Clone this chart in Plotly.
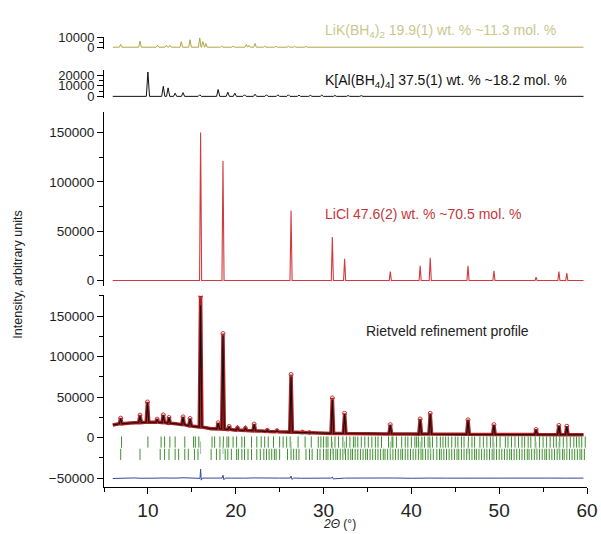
import plotly.graph_objects as go

# ---------------- data ----------------
# LiK(BH4)2 calculated pattern: peak positions (2theta) and heights
lik_pos = [6.9, 9.1, 11.1, 12.1, 12.5, 13.8, 14.8, 15.9, 16.25, 16.6, 18.4, 19.7, 21.2, 21.5,
           22.2, 23.3, 24.6, 26.0, 26.7, 28.0, 29.4, 30.8, 32.5, 34.0, 36.0, 38.0, 41.0, 44.5]
lik_int = [3000, 6500, 2000, 2000, 2000, 6000, 8000, 10000, 6000, 4000, 1000, 1000, 3000, 2000,
           4000, 1000, 1000, 1000, 1000, 800, 800, 600, 600, 500, 500, 400, 400, 300]

# K[Al(BH4)4] calculated pattern
kal_pos = [10.0, 11.75, 12.3, 13.1, 14.0, 15.9, 18.0, 19.1, 19.9, 21.0, 22.2, 23.5, 24.8,
           26.0, 27.2, 28.5, 29.8, 31.3, 32.8, 34.3, 36.0, 37.8, 39.5]
kal_int = [23000, 9500, 8000, 3000, 3500, 1500, 6500, 4000, 3000, 1500, 2000, 1500, 1500,
           1500, 1200, 1000, 1200, 800, 800, 700, 600, 500, 500]

# LiCl calculated pattern
licl_pos = [16.0, 18.55, 26.3, 31.0, 32.4, 37.6, 41.0, 42.15, 46.45, 49.4, 54.2, 56.8, 57.7]
licl_int = [150000, 121000, 71000, 44000, 22000, 9000, 15000, 23000, 15000, 10000, 3500, 9000, 7500]

# Rietveld profile: peaks (observed top, calculated top, local base)
rv_pos = [6.9, 9.1, 9.95, 11.05, 11.75, 12.4, 14.0, 14.8, 16.0, 18.0, 18.55, 19.25, 20.2, 21.1,
          22.1, 23.6, 24.7, 26.3, 27.6, 28.4, 31.0, 32.4, 37.6, 41.0, 42.15, 46.45, 49.4, 54.2,
          56.8, 57.7]
rv_obs = [24000, 27700, 44000, 22800, 28000, 24800, 25600, 23600, 175000, 18300, 128500, 13800,
          11800, 11400, 16700, 9000, 8500, 78000, 6800, 6300, 49000, 30000, 16000, 23000, 30000,
          22000, 16000, 10000, 15000, 14000]
rv_calc = [23500, 27000, 43000, 22500, 27500, 24500, 25000, 23000, 163000, 18000, 126000, 13500,
           11500, 11200, 16300, 8800, 8300, 75000, 6600, 6100, 46500, 29000, 15500, 22000, 29000,
           21000, 15500, 9700, 14500, 13500]
rv_base = [17000, 18500, 19000, 19000, 18500, 17800, 16000, 14500, 13000, 10800, 10500, 10000,
           9300, 8800, 8400, 7600, 7300, 6800, 6200, 6000, 5200, 5000, 4500, 4300, 4300, 4000,
           3900, 3700, 3600, 3600]
# background anchors of the profile
bg_x = [6.0, 6.4, 8.0, 10.6, 13.2, 15.3, 17.2, 19.8, 21.6, 23.0, 25.5, 29.5, 35.0, 40.0, 45.0, 52.0, 59.6]
bg_y = [15500, 16500, 18000, 19000, 17000, 13500, 11000, 9500, 8600, 8000, 7000, 5600, 4800, 4400,
        4100, 3800, 3500]

# difference curve
diff_x = [6.0, 6.8, 7.6, 8.4, 9.2, 10.0, 10.8, 11.6, 12.4, 13.2, 14.0, 14.8, 15.6, 15.93, 16.0,
          16.07, 16.2, 17.0, 17.8, 18.45, 18.55, 18.65, 18.8, 19.4, 20.2, 21.0, 22.0, 23.5, 25.0,
          26.2, 26.3, 26.4, 26.6, 27.5, 29.0, 30.9, 31.0, 31.1, 32.4, 34.0, 36.0, 38.0, 40.0,
          41.0, 42.1, 44.0, 46.4, 48.0, 49.4, 51.0, 53.0, 54.2, 56.0, 57.7, 59.6]
diff_y = [-50500, -50000, -50300, -49800, -50200, -49700, -50100, -49900, -50300, -50000, -49600,
          -50200, -49900, -50300, -39000, -52500, -50000, -49700, -50100, -50000, -46500, -52000,
          -50000, -50200, -49900, -50100, -49800, -50300, -50000, -50000, -47500, -51500, -50000,
          -50200, -49900, -50000, -48500, -51000, -50000, -49800, -50100, -49900, -50200, -49700,
          -50000, -50100, -49900, -50200, -49800, -50000, -50100, -49900, -50000, -50100, -50000]

# Bragg reflection positions (two rows) and LiCl reflections
refl_row1 = [7.0, 10.0, 11.5, 11.9, 12.5, 13.1, 14.2, 15.2, 15.4, 15.8, 17.3, 17.6, 18.2, 18.6,
             19.0, 19.2, 19.7, 20.1, 20.7, 21.0, 21.8, 22.4, 22.9, 23.3, 23.7, 24.3, 25.0, 25.4,
             25.8, 26.2, 27.1, 27.9, 28.6, 29.4, 29.7, 30.0, 30.3, 30.5, 30.9, 31.3, 31.7, 32.2,
             32.6, 33.0, 33.4, 33.6, 33.9, 34.3, 34.7, 35.1, 35.5, 35.9, 36.2, 36.6, 37.4, 37.8,
             37.9, 38.3, 38.9, 39.3, 39.6, 40.0, 40.4, 40.6, 40.8, 41.2, 41.5, 41.9, 42.1, 42.4,
             42.9, 43.3, 43.6, 43.9, 44.2, 44.6, 45.0, 45.3, 45.7, 46.0, 46.5, 46.9, 47.2, 47.8,
             48.2, 48.6, 49.0, 49.3, 49.7, 50.1, 50.7, 51.0, 51.4, 51.8, 52.2, 52.6, 52.9, 53.3,
             53.6, 54.1, 54.6, 55.0, 55.4, 55.8, 56.2, 56.5, 56.9, 57.3, 57.7, 58.1, 58.5, 58.8,
             59.1, 59.4, 59.8]
refl_row2 = [6.9, 9.1, 11.4, 11.9, 12.4, 13.1, 13.5, 14.2, 14.6, 15.3, 15.7, 17.2, 17.8, 18.2,
             18.8, 19.1, 19.5, 20.1, 20.3, 20.7, 21.0, 21.4, 21.8, 22.4, 22.8, 23.2, 23.5, 23.8,
             24.1, 24.4, 24.6, 25.0, 25.9, 26.3, 26.6, 26.9, 27.2, 28.0, 28.4, 28.7, 29.3, 29.6,
             30.0, 30.3, 30.5, 30.8, 31.1, 31.4, 31.6, 31.9, 32.2, 32.5, 32.8, 33.1, 33.3, 33.6,
             33.9, 34.2, 34.5, 34.8, 35.0, 35.3, 35.6, 35.9, 36.2, 36.5, 36.8, 37.0, 37.3, 37.6,
             37.9, 38.2, 38.5, 38.8, 39.0, 39.3, 39.6, 39.9, 40.2, 40.5, 40.8, 41.1, 41.3, 41.6,
             41.9, 42.2, 42.5, 42.9, 43.2, 43.4, 43.7, 44.0, 44.3, 44.6, 44.9, 45.2, 45.4, 45.7,
             46.0, 46.3, 46.6, 46.9, 47.2, 47.4, 47.7, 48.0, 48.3, 48.6, 48.9, 49.2, 49.4, 49.7,
             50.0, 50.3, 50.6, 50.9, 51.2, 51.4, 51.7, 52.0, 52.3, 52.6, 52.9, 53.2, 53.4, 53.7,
             54.0, 54.3, 54.6, 54.9, 55.2, 55.4, 55.7, 56.0, 56.3, 56.6, 56.9, 57.2, 57.4, 57.7,
             58.0, 58.3, 58.6, 58.9, 59.2, 59.4, 59.7]

x_start, x_end = 6.0, 59.6

# ---------------- helpers building line vertices from peak lists ----------------
HW = 0.15


def stick_pattern(pos, hts, hw=HW):
    pts = [(x_start, 0), (x_end, 0)]
    for p, h in zip(pos, hts):
        pts += [(p - hw, 0), (p, h), (p + hw, 0)]
    pts.sort(key=lambda t: t[0])
    return [a for a, _ in pts], [b for _, b in pts]


def profile(tops, hw=HW):
    pts = list(zip(bg_x, bg_y))
    for p, t, b in zip(rv_pos, tops, rv_base):
        pts += [(p - hw, b), (p, t), (p + hw, b)]
    pts.sort(key=lambda t: t[0])
    return [a for a, _ in pts], [b for _, b in pts]


FONT = "Arial, Liberation Sans, sans-serif"
H_PLOT = 487.0  # plot-area height in px (534 - bottom margin)
PW = 601 - 104 - 14


def dom(top_px, bot_px):
    return [(H_PLOT - bot_px) / H_PLOT, (H_PLOT - top_px) / H_PLOT]


def pfrac(px):
    return (H_PLOT - px) / H_PLOT


fig = go.Figure()

lx, ly = stick_pattern(lik_pos, lik_int)
fig.add_trace(go.Scatter(x=lx, y=ly, mode="lines", line=dict(color="#b3a545", width=1),
                         xaxis="x", yaxis="y4", hoverinfo="skip"))
kx, ky = stick_pattern(kal_pos, kal_int, 0.18)
fig.add_trace(go.Scatter(x=kx, y=ky, mode="lines", line=dict(color="#111111", width=1),
                         xaxis="x", yaxis="y3", hoverinfo="skip"))
cx, cy = stick_pattern(licl_pos, licl_int, 0.12)
fig.add_trace(go.Scatter(x=cx, y=cy, mode="lines", line=dict(color="#d23a40", width=1.1),
                         xaxis="x", yaxis="y2", hoverinfo="skip"))

ox, oy = profile(rv_obs)
fig.add_trace(go.Scatter(x=ox, y=oy, mode="lines", line=dict(color="#b51f22", width=3.5),
                         xaxis="x", yaxis="y", hoverinfo="skip"))
fig.add_trace(go.Scatter(x=rv_pos, y=rv_obs, mode="markers",
                         marker=dict(symbol="circle-open", size=4, color="#c0393b", line=dict(width=1)),
                         xaxis="x", yaxis="y", hoverinfo="skip"))
clx, cly = profile(rv_calc)
fig.add_trace(go.Scatter(x=clx, y=cly, mode="lines", line=dict(color="#111111", width=1.1),
                         xaxis="x", yaxis="y", hoverinfo="skip"))

fig.add_trace(go.Scatter(x=refl_row1, y=[-5500] * len(refl_row1), mode="markers",
                         marker=dict(symbol="line-ns", size=8, line=dict(color="#3f8f2f", width=1)),
                         xaxis="x", yaxis="y", hoverinfo="skip"))
fig.add_trace(go.Scatter(x=refl_row2, y=[-20700] * len(refl_row2), mode="markers",
                         marker=dict(symbol="line-ns", size=8, line=dict(color="#3f8f2f", width=1)),
                         xaxis="x", yaxis="y", hoverinfo="skip"))
fig.add_trace(go.Scatter(x=licl_pos, y=[-12500] * len(licl_pos), mode="markers",
                         marker=dict(symbol="line-ns", size=9, line=dict(color="#9cc49a", width=1)),
                         xaxis="x", yaxis="y", hoverinfo="skip"))
fig.add_trace(go.Scatter(x=diff_x, y=diff_y, mode="lines", line=dict(color="#34479a", width=1),
                         xaxis="x", yaxis="y", hoverinfo="skip"))

yax_common = dict(showline=True, linecolor="black", linewidth=1, ticks="outside", ticklen=6,
                  tickwidth=1, tickcolor="black", showgrid=False, zeroline=False,
                  anchor="x", tickformat="d",
                  tickfont=dict(family=FONT, size=13.5, color="#222"))
small_font = dict(family=FONT, size=13, color="#222")


def minor(d):
    return dict(dtick=d, tick0=0, ticks="outside", ticklen=4, tickcolor="black")


fig.update_layout(
    width=601, height=534,
    margin=dict(l=104, r=14, t=0, b=47),
    paper_bgcolor="white", plot_bgcolor="white",
    showlegend=False,
    xaxis=dict(range=[5, 60], showline=True, linecolor="black", linewidth=1, ticks="outside",
               ticklen=6, tickcolor="black", dtick=10, tick0=0, showgrid=False, zeroline=False,
               anchor="y", tickfont=dict(family=FONT, size=19, color="#222"),
               minor=minor(5)),
    yaxis=dict(domain=dom(293, 487), range=[-61000, 175600], dtick=50000, tick0=0,
               minor=minor(25000), **yax_common),
    yaxis2=dict(domain=dom(107, 283), range=[-5000, 171000], dtick=50000, tick0=0,
                minor=minor(25000), **yax_common),
    yaxis3=dict(domain=dom(65, 93), range=[-1400, 24700], dtick=10000, tick0=0,
                minor=minor(5000), **{**yax_common, "tickfont": small_font}),
    yaxis4=dict(domain=dom(31, 43.5), range=[-1900, 11380], dtick=10000, tick0=0,
                minor=minor(5000), **{**yax_common, "tickfont": small_font}),
)

ann = [
    dict(x=29.9, y=pfrac(25), text="LiK(BH<sub>4</sub>)<sub>2</sub> 19.9(1) wt. % ~11.3 mol. %",
         color="#c9c88a"),
    dict(x=29.9, y=pfrac(76), text="K[Al(BH<sub>4</sub>)<sub>4</sub>] 37.5(1) wt. % ~18.2 mol. %",
         color="#111111"),
    dict(x=29.9, y=pfrac(211), text="LiCl 47.6(2) wt. % ~70.5 mol. %", color="#c8363c"),
    dict(x=34.6, y=pfrac(329), text="Rietveld refinement profile", color="#222222"),
]
for a in ann:
    fig.add_annotation(x=a["x"], y=a["y"], xref="x", yref="paper", text=a["text"],
                       showarrow=False, xanchor="left", yanchor="middle",
                       font=dict(family=FONT, size=14, color=a["color"]))

fig.add_annotation(x=(18 - 104) / PW, y=pfrac(272), xref="paper", yref="paper",
                   text="Intensity, arbitrary units",
                   showarrow=False, textangle=-90, xanchor="center", yanchor="middle",
                   font=dict(family=FONT, size=12.5, color="#222"))
fig.add_annotation(x=(339 - 104) / PW, y=-37 / H_PLOT, xref="paper", yref="paper",
                   text="<i>2Θ</i> (°)",
                   showarrow=False, xanchor="center", yanchor="middle",
                   font=dict(family=FONT, size=12, color="#222"))

fig.write_html("out.html")
